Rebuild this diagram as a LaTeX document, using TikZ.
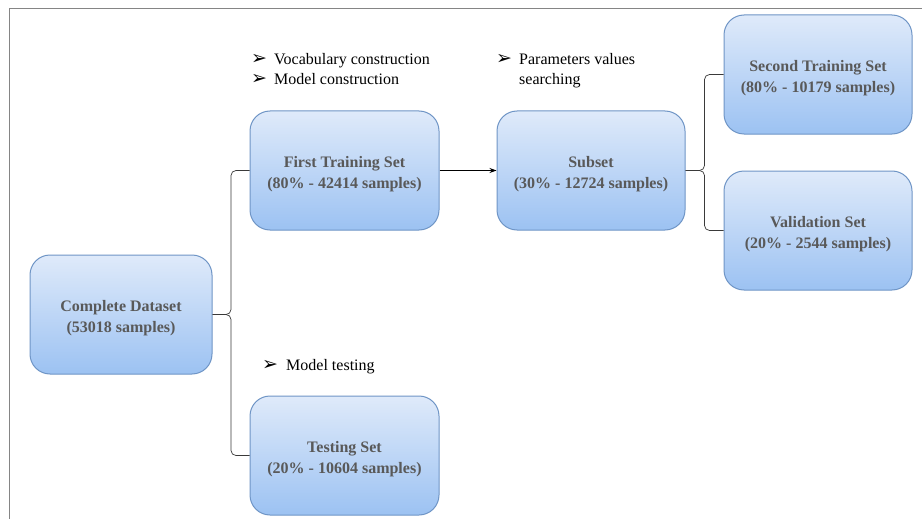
\documentclass[tikz,border=0pt]{standalone}
\usepackage{fontspec}
\setmainfont{Liberation Serif}
\newfontfamily\tnr{Liberation Serif}
\newfontfamily\dejavu{DejaVu Sans}
\usetikzlibrary{arrows.meta,calc}
\definecolor{boxline}{HTML}{6F95C6}
\definecolor{boxtop}{HTML}{DFEAFA}
\definecolor{boxbot}{HTML}{9CC2F2}
\definecolor{boxtext}{HTML}{595959}
\definecolor{framegray}{HTML}{858585}
\definecolor{conngray}{HTML}{3A3A3A}
\tikzset{
  databox/.style={draw=boxline, line width=1pt, rounded corners=20pt,
    top color=boxtop, bottom color=boxbot, minimum height=119pt,
    text=boxtext, font=\tnr\fontsize{16}{21}\selectfont\bfseries, align=center, inner sep=0pt},
  conn/.style={draw=conngray, line width=0.7pt},
  brace/.style={conn, rounded corners=5pt},
  note/.style={anchor=west, inner sep=0pt, align=left, font=\tnr\fontsize{16}{20}\selectfont},
}
\newcommand{\bul}[1]{\makebox[#1][l]{\dejavu\fontsize{19}{16}\selectfont ➢}}
\newcommand{\st}{\rule{0pt}{18pt}}
\begin{document}
\begin{tikzpicture}[x=1pt,y=-1pt]
\useasboundingbox (0,0) rectangle (922,519);
\fill[white] (0,0) rectangle (922,519);
\draw[framegray, line width=1.2pt] (9.5,519) -- (9.5,8.5) -- (922,8.5);

\node[databox, minimum width=182pt] (cd) at (121,314.5) {\st Complete Dataset\\(53018 samples)};
\node[databox, minimum width=189pt] (ft) at (344.5,170.5) {\st First Training Set\\(80\% - 42414 samples)};
\node[databox, minimum width=189pt] (ts) at (344.5,455.5) {\st Testing Set\\(20\% - 10604 samples)};
\node[databox, minimum width=188pt] (sub) at (591,170.5) {\st Subset\\(30\% - 12724 samples)};
\node[databox, minimum width=188pt] (st) at (818,74.5) {\st Second Training Set\\(80\% - 10179 samples)};
\node[databox, minimum width=188pt] (vs) at (818,230.5) {\st Validation Set\\(20\% - 2544 samples)};

\coordinate (m1) at ($(cd.east)!0.5!(ft.west)$);
\coordinate (m2) at ($(sub.east)!0.5!(st.west)$);
\draw[brace] (cd.east) -| (m1 |- ft.west) -- (ft.west);
\draw[brace] (cd.east) -| (m1 |- ts.west) -- (ts.west);
\draw[brace] (sub.east) -| (m2 |- st.west) -- (st.west);
\draw[brace] (sub.east) -| (m2 |- vs.west) -- (vs.west);
\draw[conn, draw=black, -{Stealth[length=7pt,width=5pt]}] (ft.east) -- (sub.west);

\node[note] (n1) at (251,69) {\bul{23pt}Vocabulary construction\\\bul{23pt}Model construction};
\node[note] (n2) at (496,71) {\bul{23pt}Parameters values\\\makebox[23pt]{}searching};
\node[note] (n3) at (262,367) {\bul{24pt}Model testing};
\end{tikzpicture}
\end{document}
